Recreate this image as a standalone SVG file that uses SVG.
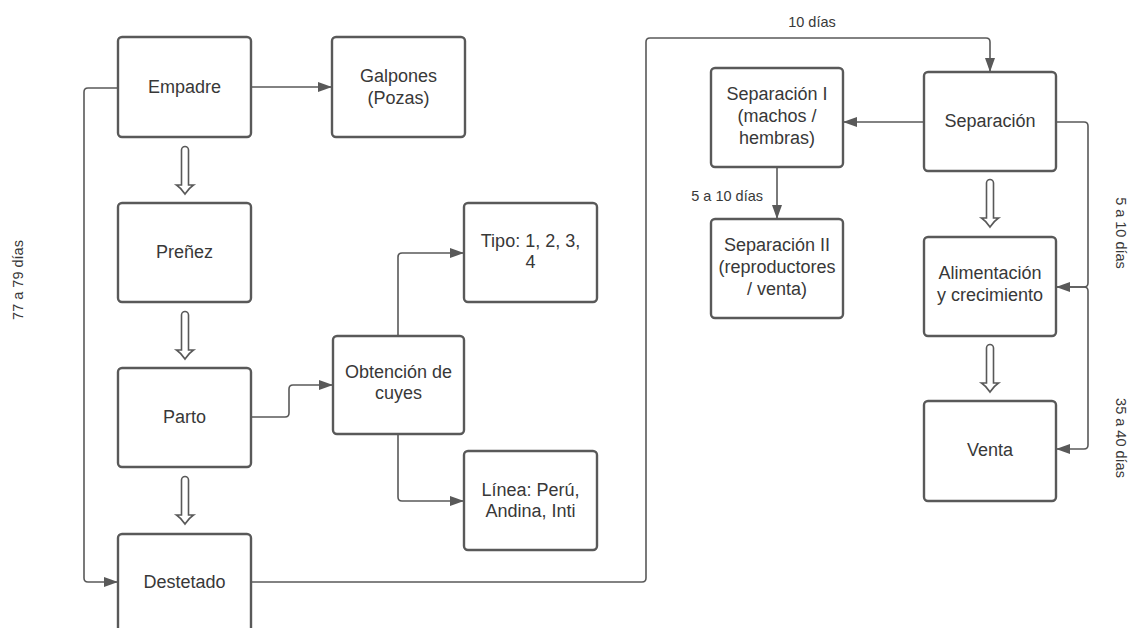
<svg xmlns="http://www.w3.org/2000/svg" width="1128" height="628" viewBox="0 0 1128 628">
<style>
.box{fill:#fff;stroke:#595959;stroke-width:2.4}
.t{font-family:"Liberation Sans",Arial,sans-serif;font-size:18px;fill:#383838;text-anchor:middle}
.lbl{font-family:"Liberation Sans",Arial,sans-serif;font-size:14.5px;fill:#383838}
.c{fill:none;stroke:#595959;stroke-width:1.6}
.ha{fill:#fff;stroke:#595959;stroke-width:1.6}
</style>
<defs>
<marker id="ah" markerUnits="userSpaceOnUse" markerWidth="16" markerHeight="12" refX="14" refY="5" orient="auto">
<path d="M0,0 L14,5 L0,10 Z" fill="#595959"/>
</marker>
<path id="hollow" d="M-3.5,4 A3.5,3.5 0 0 1 3.5,4 V39 H8.5 Q4,42 0,48 Q-4,42 -8.5,39 H-3.5 Z"/>
</defs>
<rect width="1128" height="628" fill="#fff"/>

<g id="connectors">
<path class="c" d="M251,87 H332" marker-end="url(#ah)"/>
<path class="c" d="M118,88 H88 Q84,88 84,92 V578 Q84,582 88,582 H118" marker-end="url(#ah)"/>
<path class="c" d="M251,417 H285 Q289,417 289,413 V389 Q289,385 293,385 H333" marker-end="url(#ah)"/>
<path class="c" d="M398,336 V257 Q398,253 402,253 H464" marker-end="url(#ah)"/>
<path class="c" d="M398,434 V497 Q398,501 402,501 H464" marker-end="url(#ah)"/>
<path class="c" d="M251,582 H642 Q646,582 646,578 V42 Q646,38 650,38 H986 Q990,38 990,42 V72" marker-end="url(#ah)"/>
<path class="c" d="M924,122 H843" marker-end="url(#ah)"/>
<path class="c" d="M777,167 V219" marker-end="url(#ah)"/>
<path class="c" d="M1056,122 H1084 Q1088,122 1088,126 V283 Q1088,287 1084,287 H1056" marker-end="url(#ah)"/>
<path class="c" d="M1056,287 H1084 Q1088,287 1088,291 V445 Q1088,449 1084,449 H1056" marker-end="url(#ah)"/>
<use href="#hollow" class="ha" x="185" y="146"/>
<use href="#hollow" class="ha" x="185" y="311"/>
<use href="#hollow" class="ha" x="185" y="476"/>
<use href="#hollow" class="ha" x="990" y="179"/>
<use href="#hollow" class="ha" x="990" y="344"/>
<text class="lbl" x="812" y="27" text-anchor="middle">10 días</text>
<text class="lbl" x="763" y="201" text-anchor="end">5 a 10 días</text>
<text class="lbl" transform="translate(23,280) rotate(-90)" text-anchor="middle">77 a 79 días</text>
<text class="lbl" transform="translate(1116,233) rotate(90)" text-anchor="middle">5 a 10 días</text>
<text class="lbl" transform="translate(1116,438) rotate(90)" text-anchor="middle">35 a 40 días</text>
</g>

<g id="empadre"><rect class="box" x="118" y="37" width="133" height="100" rx="4"/><text class="t" x="184.5" y="93">Empadre</text></g>
<g id="galpones"><rect class="box" x="332" y="37" width="133" height="100" rx="4"/><text class="t" x="398.5" y="82">Galpones</text><text class="t" x="398.5" y="104">(Pozas)</text></g>
<g id="prenez"><rect class="box" x="118" y="203" width="133" height="99" rx="4"/><text class="t" x="184.5" y="258">Preñez</text></g>
<g id="parto"><rect class="box" x="118" y="368" width="133" height="99" rx="4"/><text class="t" x="184.5" y="423">Parto</text></g>
<g id="destetado"><rect class="box" x="118" y="534" width="133" height="100" rx="4"/><text class="t" x="184.5" y="588">Destetado</text></g>
<g id="obtencion"><rect class="box" x="333" y="336" width="131" height="98" rx="4"/><text class="t" x="398.5" y="378">Obtención de</text><text class="t" x="398.5" y="399">cuyes</text></g>
<g id="tipo"><rect class="box" x="464" y="203" width="133" height="99" rx="4"/><text class="t" x="530.5" y="247">Tipo: 1, 2, 3,</text><text class="t" x="530.5" y="268">4</text></g>
<g id="linea"><rect class="box" x="464" y="451" width="133" height="99" rx="4"/><text class="t" x="530.5" y="496">Línea: Perú,</text><text class="t" x="530.5" y="517">Andina, Inti</text></g>
<g id="separacion"><rect class="box" x="924" y="72" width="132" height="99" rx="4"/><text class="t" x="990" y="127">Separación</text></g>
<g id="separacion1"><rect class="box" x="711" y="68" width="132" height="99" rx="4"/><text class="t" x="777" y="100">Separación I</text><text class="t" x="777" y="122">(machos /</text><text class="t" x="777" y="144">hembras)</text></g>
<g id="separacion2"><rect class="box" x="711" y="219" width="132" height="99" rx="4"/><text class="t" x="777" y="251">Separación II</text><text class="t" x="777" y="273">(reproductores</text><text class="t" x="777" y="295">/ venta)</text></g>
<g id="alimentacion"><rect class="box" x="924" y="237" width="132" height="99" rx="4"/><text class="t" x="990" y="279">Alimentación</text><text class="t" x="990" y="301">y crecimiento</text></g>
<g id="venta"><rect class="box" x="924" y="401" width="132" height="100" rx="4"/><text class="t" x="990" y="456">Venta</text></g>
</svg>
